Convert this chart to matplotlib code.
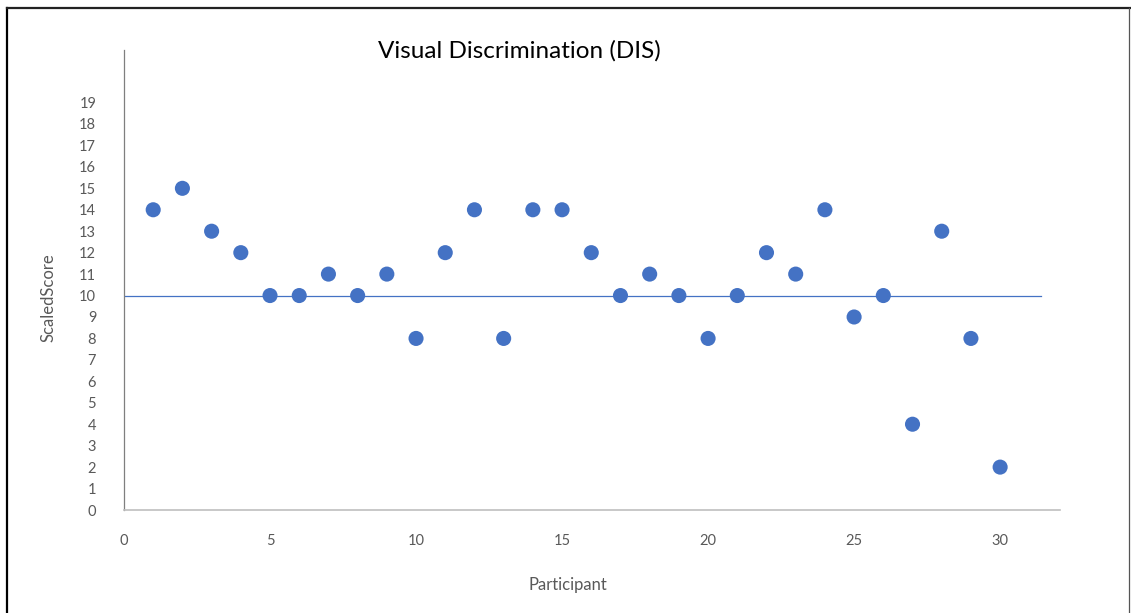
import matplotlib
matplotlib.use("Agg")
import matplotlib.pyplot as plt
from matplotlib.lines import Line2D

participants = list(range(1, 31))
scores = [14, 15, 13, 12, 10, 10, 11, 10, 11, 8,
          12, 14, 8, 14, 14, 12, 10, 11, 10, 8,
          10, 12, 11, 14, 9, 10, 4, 13, 8, 2]
ref_x = [0, 31.4]
ref_y = [10, 10]
y_ticks = list(range(0, 20))
x_ticks = [0, 5, 10, 15, 20, 25, 30]

plt.rcParams['font.family'] = ['Lato', 'DejaVu Sans']

W, H = 1131, 613
fig = plt.figure(figsize=(W / 100, H / 100), dpi=100)
ax = fig.add_axes([124 / W, 1 - 510 / H, (1060 - 124) / W, (510 - 50) / H])

blue = '#4472C4'
ax.plot(ref_x, ref_y, color=blue, lw=0.9, zorder=2)
ax.scatter(participants, scores, s=118, color=blue, edgecolors='none', zorder=3)

ax.set_xlim(0, 32.05)
ax.set_ylim(0, 21.45)
ax.set_xticks(x_ticks)
ax.set_yticks(y_ticks)
ax.tick_params(axis='both', length=0, labelsize=10.5, labelcolor='#595959')
ax.tick_params(axis='x', pad=17)
ax.tick_params(axis='y', pad=20)

for s in ['top', 'right']:
    ax.spines[s].set_visible(False)
ax.spines['left'].set_color('#7f7f7f')
ax.spines['left'].set_linewidth(0.9)
ax.spines['bottom'].set_color('#bfbfbf')
ax.spines['bottom'].set_linewidth(1.2)

fig.text(519 / W, 1 - 51 / H, 'Visual Discrimination (DIS)', ha='center', va='center',
         fontsize=17.5, color='black')
fig.text(48 / W, 1 - 298 / H, 'ScaledScore', rotation=90, ha='center', va='center',
         fontsize=12, color='#595959')
fig.text(568 / W, 1 - 585 / H, 'Participant', ha='center', va='center',
         fontsize=12, color='#595959')

# figure border
fig.add_artist(Line2D([7 / W, 7 / W], [0, 1 - 8 / H], transform=fig.transFigure,
                      color='black', lw=1.6))
fig.add_artist(Line2D([7 / W, 1130 / W], [1 - 8 / H, 1 - 8 / H], transform=fig.transFigure,
                      color='#222222', lw=1.6))
fig.add_artist(Line2D([1129 / W, 1129 / W], [0, 1 - 8 / H], transform=fig.transFigure,
                      color='#555555', lw=0.9))

fig.savefig('out.png', dpi=100)
